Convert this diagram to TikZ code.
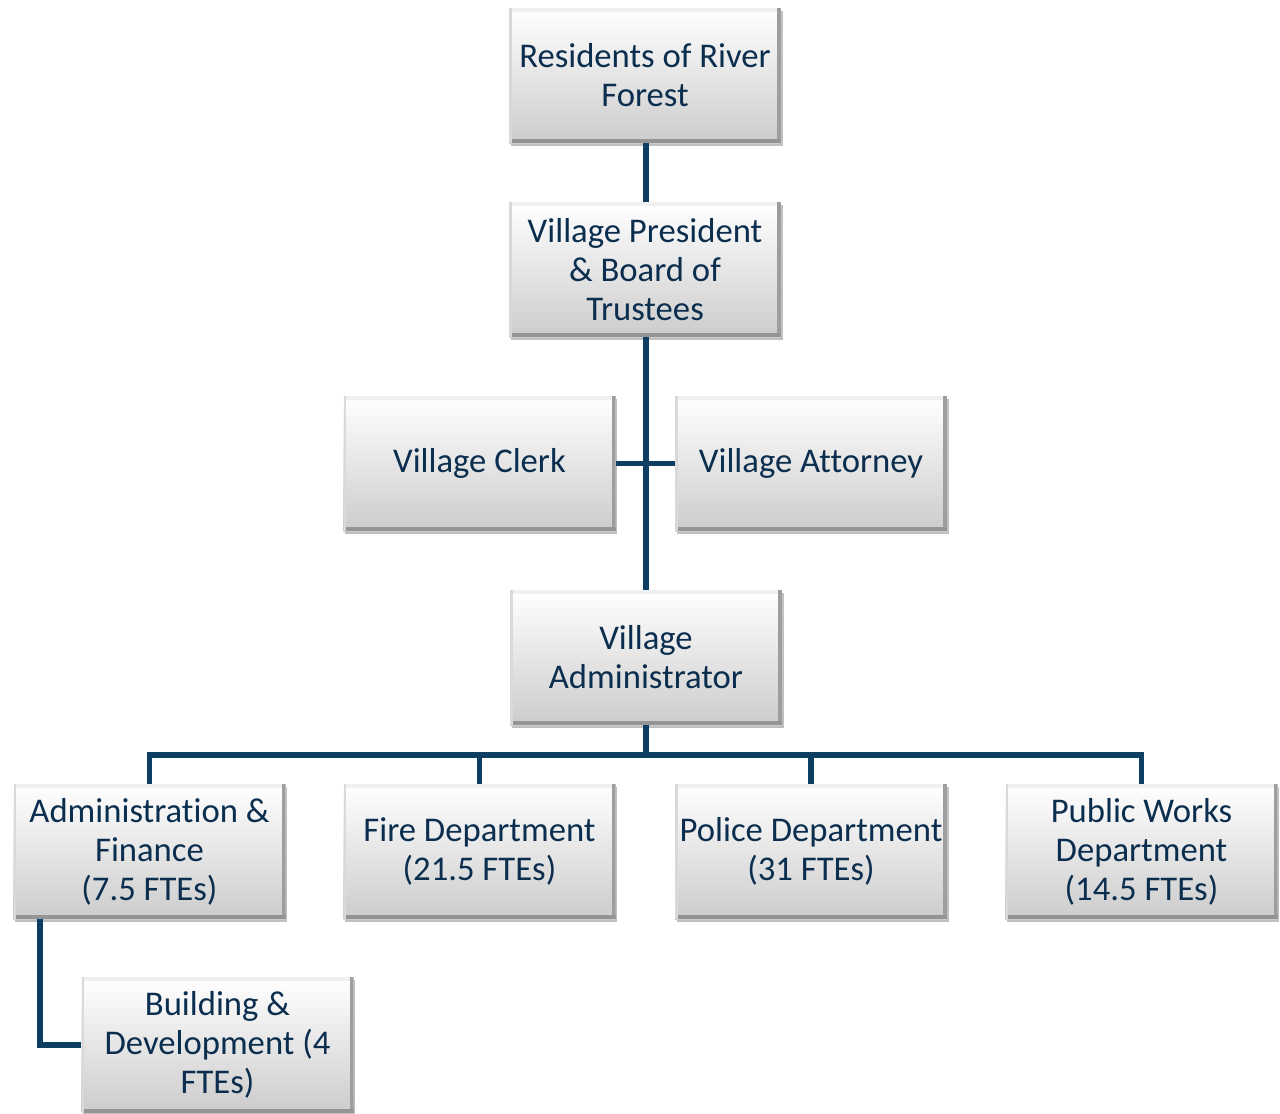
\documentclass[tikz,border=0pt]{standalone}
\usepackage{fontspec}
\setmainfont[Ligatures=NoCommon]{Carlito}
\usetikzlibrary{shadows}
\definecolor{navy}{HTML}{0E3F63}
\definecolor{inktext}{HTML}{0B2E4F}
\tikzset{
  orgbox/.style={
    rectangle, minimum width=204pt, minimum height=101.5pt, inner sep=1pt,
    align=center, font=\fontsize{26}{29.3}\selectfont, text=inktext,
    top color=white, bottom color=black!20,
    drop shadow={shadow xshift=1.2pt, shadow yshift=-2.2pt, opacity=0.25, fill=black},
    path picture={
      \fill[black!6] (path picture bounding box.north west) rectangle ([yshift=-3pt]path picture bounding box.north east);
      \fill[black!38] ([xshift=-3pt]path picture bounding box.north east) rectangle (path picture bounding box.south east);
      \fill[black!42] (path picture bounding box.south west) rectangle ([yshift=3pt]path picture bounding box.south east);
      \fill[white!85!black] (path picture bounding box.north west) rectangle ([xshift=2pt]path picture bounding box.south west);
    }
  },
  link/.style={draw=navy, line width=3.8pt, line cap=butt, line join=miter}
}
\begin{document}
\begin{tikzpicture}[x=0.75pt,y=-0.75pt]
\useasboundingbox (0,0) rectangle (1280,1113);

% boxes
\node[orgbox] (res) at (645,75.5) {Residents of River\\Forest};
\node[orgbox] (pres) at (645,269.5) {Village President\\\& Board of\\Trustees};
\node[orgbox] (clerk) at (479.5,463.5) {Village Clerk};
\node[orgbox] (atty) at (811,463.5) {Village Attorney};
\node[orgbox] (admin) at (646,657.5) {Village\\Administrator};
\node[orgbox] (fin) at (149.5,851.5) {Administration \&\\Finance\\(7.5 FTEs)};
\node[orgbox] (fire) at (479.5,851.5) {Fire Department\\(21.5 FTEs)};
\node[orgbox] (police) at (811,851.5) {Police Department\\(31 FTEs)};
\node[orgbox] (pw) at (1141.5,851.5) {Public Works\\Department\\(14.5 FTEs)};
\node[orgbox] (bld) at (217.5,1045) {Building \&\\Development (4\\FTEs)};

% junction points
\coordinate (bus) at (646,755);
\coordinate (corner) at (40,1045);

% connectors
\draw[link] (res.south -| 646,0) -- (pres.north -| 646,0);
\draw[link] (pres.south -| 646,0) -- (admin.north -| 646,0);
\draw[link] (clerk.east) -- (atty.west);
\draw[link] (admin.south -| bus) -- (bus);
\draw[link] (fin.north) -- (fin.north |- bus) -- (pw.north |- bus) -- (pw.north);
\draw[link] (fire.north |- bus) -- (fire.north);
\draw[link] (police.north |- bus) -- (police.north);
\draw[link] (fin.south -| corner) -- (corner) -- (bld.west);
\end{tikzpicture}
\end{document}
